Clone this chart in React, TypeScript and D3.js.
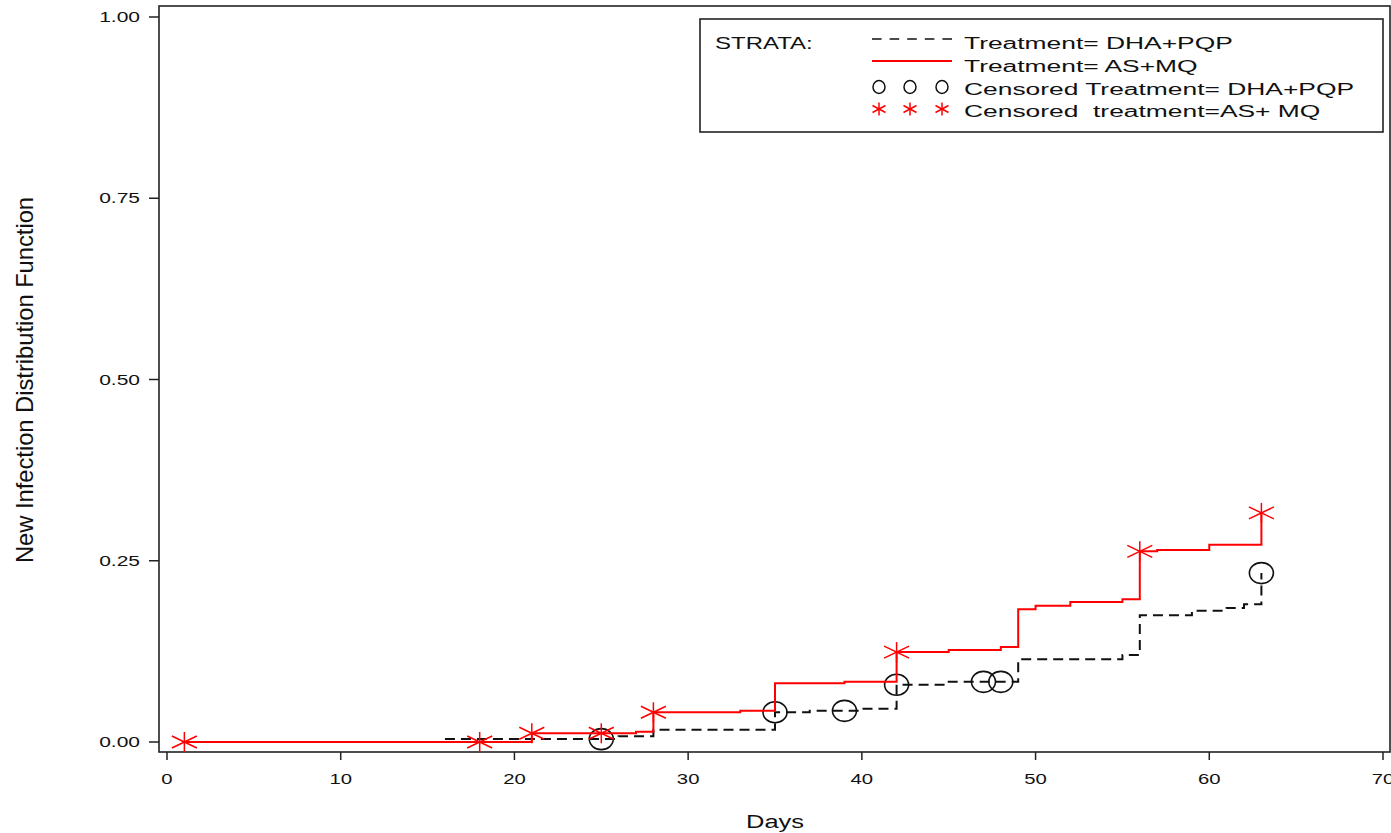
import React from "react";
import * as d3 from "d3";

// Kaplan-Meier style cumulative new infection curves
const dhaTimes = [16, 26, 28, 35, 37, 40, 42, 45, 49, 55, 56, 59, 61, 62, 63];
const dhaValues = [0.004, 0.008, 0.017, 0.041, 0.043, 0.046, 0.079, 0.083, 0.114, 0.12, 0.175, 0.181, 0.185, 0.19, 0.233];
const dhaCensoredTimes = [25, 35, 39, 42, 47, 48, 63];
const dhaCensoredValues = [0.004, 0.041, 0.043, 0.079, 0.083, 0.083, 0.233];

const asTimes = [1, 21, 27, 28, 33, 35, 39, 42, 45, 48, 49, 50, 52, 55, 56, 57, 60, 63];
const asValues = [0, 0.012, 0.014, 0.041, 0.043, 0.081, 0.083, 0.124, 0.127, 0.131, 0.183, 0.188, 0.193, 0.197, 0.263, 0.265, 0.272, 0.316];
const asCensoredTimes = [1, 18, 21, 25, 28, 42, 56, 63];
const asCensoredValues = [0, 0, 0.012, 0.012, 0.041, 0.124, 0.263, 0.316];

const xTicks = [0, 10, 20, 30, 40, 50, 60, 70];
const yTicks = [0, 0.25, 0.5, 0.75, 1];

const legendLabels = [
  "Treatment= DHA+PQP",
  "Treatment= AS+MQ",
  "Censored Treatment= DHA+PQP",
  "Censored  treatment=AS+ MQ",
];

const FONT = "'Liberation Sans', Arial, Helvetica, sans-serif";
const RED = "#ff0000";

const zip = (t: number[], v: number[]) => t.map((d, i) => ({ t: d, v: v[i] }));

const Star = ({ x, y, w, h, v }: { x: number; y: number; w: number; h: number; v: number }) => (
  <g transform={`translate(${x},${y})`} stroke={RED} strokeWidth={1.5}>
    <line x1={0} y1={-v} x2={0} y2={v} />
    <line x1={-w} y1={-h} x2={w} y2={h} />
    <line x1={-w} y1={h} x2={w} y2={-h} />
  </g>
);

export default function App() {
  const width = 1391;
  const height = 833;

  const x = d3.scaleLinear().domain([0, 70]).range([167, 1383]);
  const y = d3.scaleLinear().domain([0, 1]).range([742, 17]);

  const frame = { left: 159, top: 6, right: 1390, bottom: 752 };

  const step = d3
    .line<{ t: number; v: number }>()
    .x((d) => x(d.t))
    .y((d) => y(d.v))
    .curve(d3.curveStepAfter);

  const dha = zip(dhaTimes, dhaValues);
  const as = zip(asTimes, asValues);
  const dhaCens = zip(dhaCensoredTimes, dhaCensoredValues);
  const asCens = zip(asCensoredTimes, asCensoredValues);

  const yFmt = d3.format(".2f");

  // legend geometry
  const lg = { x: 700, y: 19, w: 683, h: 113 };
  const rowText = [49, 72, 95, 117];
  const rowSym = [39, 61, 87, 109];
  const symX = [879, 910, 942];

  return (
    <svg
      width={width}
      height={height}
      style={{ position: "absolute", left: 0, top: 0, background: "#fff" }}
      fontFamily={FONT}
    >
      <rect x={0} y={0} width={width} height={height} fill="#fff" />

      {/* frame */}
      <rect
        x={frame.left}
        y={frame.top}
        width={frame.right - frame.left}
        height={frame.bottom - frame.top}
        fill="none"
        stroke="#222"
        strokeWidth={1.6}
      />

      {/* y axis */}
      {yTicks.map((t) => (
        <g key={"y" + t}>
          <line x1={149} x2={frame.left} y1={y(t)} y2={y(t)} stroke="#222" strokeWidth={1.5} />
          <text
            transform={`translate(140,${y(t) + 5}) scale(1.5,1)`}
            textAnchor="end"
            fontSize={14}
            fill="#111"
          >
            {yFmt(t)}
          </text>
        </g>
      ))}

      {/* x axis */}
      {xTicks.map((t) => (
        <g key={"x" + t}>
          <line x1={x(t)} x2={x(t)} y1={frame.bottom} y2={frame.bottom + 8} stroke="#222" strokeWidth={1.5} />
          <text
            transform={`translate(${x(t)},784) scale(1.45,1)`}
            textAnchor="middle"
            fontSize={14}
            fill="#111"
          >
            {t}
          </text>
        </g>
      ))}

      <text x={775} y={828} textAnchor="middle" fontSize={18} textLength={58} lengthAdjust="spacingAndGlyphs" fill="#111">
        Days
      </text>
      <text
        transform="translate(33,380) rotate(-90)"
        textAnchor="middle"
        fontSize={24}
        textLength={366}
        lengthAdjust="spacingAndGlyphs"
        fill="#111"
      >
        New Infection Distribution Function
      </text>

      {/* DHA+PQP */}
      <path d={step(dha) || ""} fill="none" stroke="#111" strokeWidth={2} strokeDasharray="10,6" />
      {dhaCens.map((d, i) => (
        <ellipse key={"c" + i} cx={x(d.t)} cy={y(d.v)} rx={12} ry={10.5} fill="none" stroke="#111" strokeWidth={1.6} />
      ))}

      {/* AS+MQ */}
      <path d={step(as) || ""} fill="none" stroke={RED} strokeWidth={2} />
      {asCens.map((d, i) => (
        <Star key={"s" + i} x={x(d.t)} y={y(d.v)} w={12.5} h={6} v={10} />
      ))}

      {/* legend */}
      <rect x={lg.x} y={lg.y} width={lg.w} height={lg.h} fill="#fff" stroke="#222" strokeWidth={1.6} />
      <text transform={`translate(715,${rowText[0]}) scale(1.5,1)`} fontSize={16} fill="#111">
        STRATA:
      </text>
      <line x1={872} x2={952} y1={rowSym[0]} y2={rowSym[0]} stroke="#111" strokeWidth={1.6} strokeDasharray="9.6,8" />
      <line x1={872} x2={952} y1={rowSym[1]} y2={rowSym[1]} stroke={RED} strokeWidth={1.8} />
      {symX.map((sx, i) => (
        <ellipse key={"lc" + i} cx={sx} cy={rowSym[2]} rx={6} ry={6.5} fill="none" stroke="#111" strokeWidth={1.5} />
      ))}
      {symX.map((sx, i) => (
        <Star key={"ls" + i} x={sx} y={rowSym[3]} w={6.5} h={3.5} v={6.5} />
      ))}
      {legendLabels.map((s, i) => (
        <text
          key={"lt" + i}
          transform={`translate(964,${rowText[i]}) scale(1.65,1)`}
          fontSize={16}
          fill="#111"
          style={{ whiteSpace: "pre" }}
        >
          {s}
        </text>
      ))}
    </svg>
  );
}
